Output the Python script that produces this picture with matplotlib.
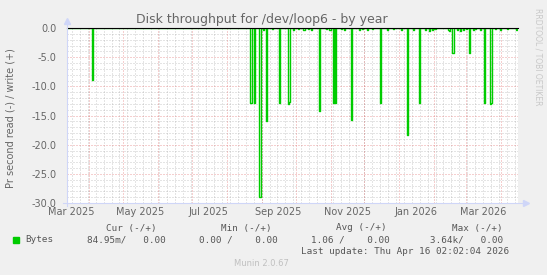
import matplotlib
matplotlib.use("Agg")
import matplotlib.pyplot as plt
import numpy as np
import pandas as pd

# daily read throughput (negative = read)
start = pd.Timestamp("2025-03-12 02:00")
end = pd.Timestamp("2026-04-16 02:00")

spike_dates = ["2025-04-04", "2025-08-22", "2025-08-25", "2025-08-30", "2025-09-05",
               "2025-09-16", "2025-09-24", "2025-09-25", "2025-10-22", "2025-11-03",
               "2025-11-05", "2025-11-19", "2025-12-15", "2026-01-08", "2026-01-18",
               "2026-02-17", "2026-03-04", "2026-03-17", "2026-03-22", "2026-03-23"]
spike_values = [-8.9, -12.9, -12.9, -29.0, -15.9,
                -12.9, -13.0, -12.6, -14.2, -12.9,
                -12.9, -15.7, -12.9, -18.4, -12.9,
                -4.2, -4.3, -12.9, -13.1, -12.9]

small_dates = ["2025-09-02", "2025-09-10", "2025-09-29", "2025-10-03", "2025-10-08",
               "2025-10-12", "2025-10-15", "2025-10-28", "2025-10-31", "2025-11-10",
               "2025-11-13", "2025-11-26", "2025-11-29", "2025-12-03", "2025-12-08",
               "2025-12-21", "2025-12-26", "2026-01-02", "2026-01-13", "2026-01-24",
               "2026-01-27", "2026-01-30", "2026-02-01", "2026-02-13", "2026-02-14",
               "2026-02-21", "2026-02-24", "2026-02-26", "2026-03-01", "2026-03-07",
               "2026-03-09", "2026-03-13", "2026-03-27", "2026-03-31", "2026-04-06",
               "2026-04-14"]
small_values = [-0.3, -0.2, -0.3, -0.2, -0.4,
                -0.2, -0.3, -0.2, -0.3, -0.2,
                -0.4, -0.3, -0.2, -0.3, -0.2,
                -0.3, -0.2, -0.3, -0.4, -0.3,
                -0.5, -0.3, -0.2, -0.3, -0.5,
                -0.3, -0.5, -0.4, -0.2, -0.3,
                -0.2, -0.3, -0.2, -0.4, -0.2,
                -0.4]

label_months = ["2025-03-01", "2025-05-01", "2025-07-01", "2025-09-01",
                "2025-11-01", "2026-01-01", "2026-03-01"]

days = pd.date_range("2025-03-12", "2026-04-16", freq="D")
read = pd.Series(0.0, index=days)
read[pd.to_datetime(small_dates)] = small_values
read[pd.to_datetime(spike_dates)] = spike_values

W, H = 547, 275
FONT = "#666666"
AXIS = "#CFD6F8"
GRID = (0.55, 0.55, 0.55, 0.45)
MGRID = (0.85, 0.25, 0.25, 0.5)

fig = plt.figure(figsize=(W / 100, H / 100), dpi=100, facecolor="#F0F0F0")
ax = fig.add_axes([66.5 / W, 72 / H, 451.5 / W, 175 / H])
ax.set_facecolor("white")


def px(x, y):
    return x / W, 1 - y / H


ax.set_xlim(start, end)
ax.set_ylim(-30, 0)

# grid, rrdtool style
for d in pd.date_range("2025-03-10", end, freq="W-MON"):
    ax.axvline(d, color=GRID, lw=0.72, ls=(0, (1, 2)), zorder=1)
for d in pd.date_range("2025-04-01", end, freq="MS"):
    ax.axvline(d, color=MGRID, lw=0.72, ls=(0, (1, 2)), zorder=1.5)
for v in range(-29, 0):
    if v % 5:
        ax.axhline(v, color=GRID, lw=0.72, ls=(0, (1, 2)), zorder=1)
for v in range(-30, 1, 5):
    ax.axhline(v, color=MGRID, lw=0.72, ls=(0, (1, 2)), zorder=1.5)

ax.plot(read.index, read.values, color="#00CC00", lw=1.0, drawstyle="steps-post", zorder=3)
ax.axhline(0, color="black", lw=0.8, zorder=4, clip_on=False)

# axes and arrows
for s in ax.spines.values():
    s.set_visible(False)
ax.plot([0, 0], [-0.015, 1.03], transform=ax.transAxes, color=AXIS, lw=0.8, clip_on=False, zorder=5)
ax.plot([-0.008, 1.015], [0, 0], transform=ax.transAxes, color=AXIS, lw=0.8, clip_on=False, zorder=5)
ax.plot([0], [1.04], marker="^", ms=4, color=AXIS, transform=ax.transAxes, clip_on=False, zorder=5)
ax.plot([1.018], [0], marker=">", ms=4, color=AXIS, transform=ax.transAxes, clip_on=False, zorder=5)

ax.set_yticks(range(-30, 1, 5))
ax.set_yticklabels(["%.1f" % v for v in range(-30, 1, 5)])
ax.tick_params(axis="y", length=0, pad=7, labelsize=7, labelcolor=FONT)

label_pos = pd.to_datetime(label_months) + pd.Timedelta(days=15)
ax.set_xticks(label_pos)
ax.set_xticklabels([d.strftime("%b %Y") for d in pd.to_datetime(label_months)])
ax.tick_params(axis="x", length=0, pad=3, labelsize=7, labelcolor=FONT)

fig.text(*px(261.5, 20), "Disk throughput for /dev/loop6 - by year", ha="center", va="center",
         fontsize=9, color=FONT)
fig.text(*px(11, 118), "Pr second read (-) / write (+)", rotation=90, ha="center", va="center",
         fontsize=7, color=FONT)
fig.text(*px(538, 8), "RRDTOOL / TOBI OETIKER", rotation=270, ha="center", va="top",
         fontsize=5.5, color="#C8C8C8")

mono = dict(family="DejaVu Sans Mono", fontsize=6.7, color="#555555", va="center")
fig.text(*px(157, 228), "Cur (-/+)", ha="right", **mono)
fig.text(*px(272, 228), "Min (-/+)", ha="right", **mono)
fig.text(*px(387, 228), "Avg (-/+)", ha="right", **mono)
fig.text(*px(503, 228), "Max (-/+)", ha="right", **mono)
fig.patches.append(plt.Rectangle(px(13, 243), 6 / W, 6 / H, transform=fig.transFigure,
                                 color="#00CC00", figure=fig))
fig.text(*px(25, 240), "Bytes", ha="left", **mono)
fig.text(*px(166, 240), "84.95m/   0.00", ha="right", **mono)
fig.text(*px(278, 240), "0.00 /    0.00", ha="right", **mono)
fig.text(*px(390, 240), "1.06 /    0.00", ha="right", **mono)
fig.text(*px(503, 240), "3.64k/   0.00", ha="right", **mono)
fig.text(*px(509, 252), "Last update: Thu Apr 16 02:02:04 2026", ha="right", **mono)
fig.text(*px(261.5, 264), "Munin 2.0.67", ha="center", va="center", fontsize=6,
         color="#C0C0C0")

fig.savefig("out.png", dpi=100, facecolor=fig.get_facecolor())
